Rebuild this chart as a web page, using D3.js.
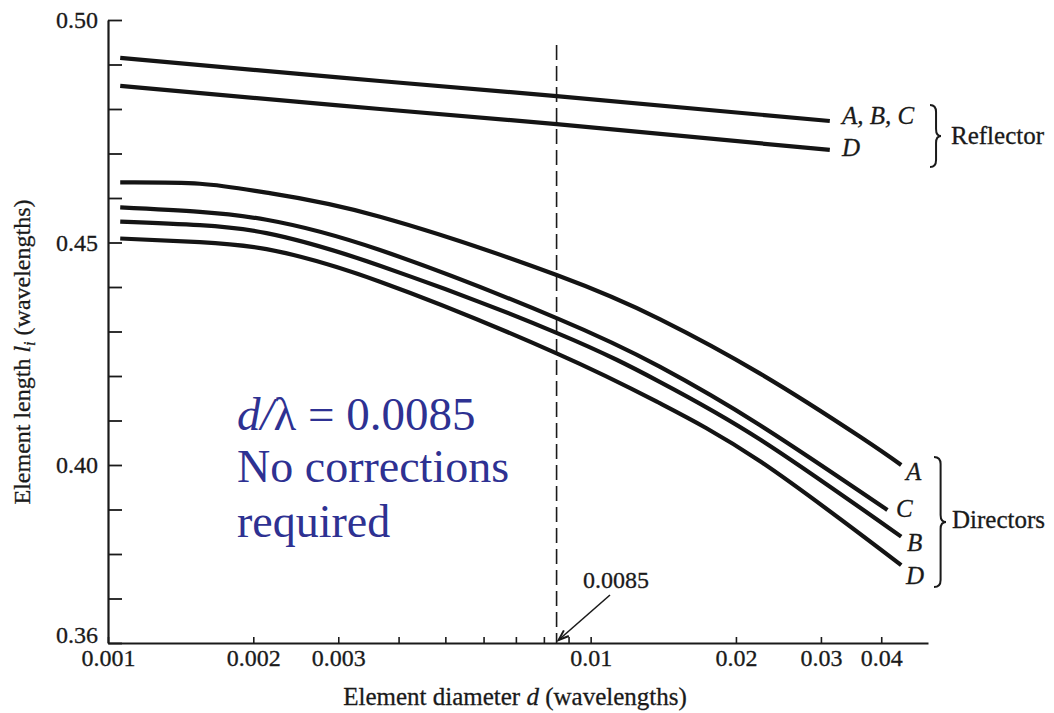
<!DOCTYPE html>
<html>
<head>
<meta charset="utf-8">
<script src="https://cdn.jsdelivr.net/npm/d3@7"></script>
<style>
  html, body { margin: 0; padding: 0; background: #fff; }
  svg { display: block; }
  text { font-family: "Liberation Serif", "Times New Roman", serif; fill: #1a1a1a; }
  text.ink { stroke: #1a1a1a; stroke-width: 0.3px; }
</style>
</head>
<body>
<svg id="chart" width="1054" height="713"></svg>
<script>
// ---- data (element diameter d in wavelengths, element length l in wavelengths) ----
const reflectorABC_d = [0.00106, 0.003, 0.0085, 0.0313];
const reflectorABC_l = [0.4915, 0.4871, 0.4829, 0.4773];
const reflectorD_d = [0.00106, 0.003, 0.0085, 0.0313];
const reflectorD_l = [0.4852, 0.4808, 0.4766, 0.4708];

const directorA_d = [0.00106, 0.00155, 0.00213, 0.00366, 0.0085, 0.0139, 0.0224, 0.0361, 0.044];
const directorA_l = [0.4635, 0.4632, 0.4612, 0.4558, 0.4427, 0.4328, 0.4206, 0.4064, 0.4000];
const directorC_d = [0.00106, 0.00155, 0.00213, 0.00366, 0.0085, 0.0139, 0.0224, 0.0412];
const directorC_l = [0.4579, 0.4569, 0.4551, 0.4483, 0.4330, 0.4221, 0.4090, 0.3899];
const directorB_d = [0.00106, 0.00155, 0.00213, 0.00366, 0.0085, 0.0139, 0.0224, 0.044];
const directorB_l = [0.4547, 0.4539, 0.4521, 0.4448, 0.4297, 0.4187, 0.4058, 0.3839];
const directorD_d = [0.00106, 0.00155, 0.00213, 0.00366, 0.0085, 0.0139, 0.0224, 0.044];
const directorD_l = [0.4509, 0.4501, 0.4485, 0.4412, 0.4251, 0.4139, 0.4009, 0.3775];

const xTickValues = [0.001, 0.002, 0.003, 0.004, 0.005, 0.006, 0.007, 0.008, 0.009, 0.01, 0.02, 0.03, 0.04];
const xTickLabels = {0.001: "0.001", 0.002: "0.002", 0.003: "0.003", 0.01: "0.01", 0.02: "0.02", 0.03: "0.03", 0.04: "0.04"};
const yTickValues = [0.36, 0.37, 0.38, 0.39, 0.40, 0.41, 0.42, 0.43, 0.44, 0.45, 0.46, 0.47, 0.48, 0.49, 0.50];
const yTickLabels = {0.36: "0.36", 0.4: "0.40", 0.45: "0.45", 0.5: "0.50"};
const markerD = 0.0085;

// ---- layout ----
const svg = d3.select("#chart");
const x = d3.scaleLog().domain([0.001, 0.05]).range([108, 928]);
const y = d3.scaleLinear().domain([0.36, 0.50]).range([643, 20]);
const key = v => +v.toFixed(4);

// axes
const xAxis = d3.axisBottom(x).tickValues(xTickValues).tickSize(-6).tickSizeOuter(0).tickPadding(6)
  .tickFormat(d => xTickLabels[key(d)] || "");
const gx = svg.append("g").attr("transform", "translate(0,643)").call(xAxis);
gx.select(".domain").attr("stroke", "#1a1a1a").attr("stroke-width", 2.2);
gx.selectAll(".tick line").attr("stroke", "#1a1a1a").attr("stroke-width", 1.6);
gx.selectAll(".tick text").attr("class", "ink").attr("font-size", 24).attr("fill", "#1a1a1a");

const yAxis = d3.axisLeft(y).tickValues(yTickValues).tickSize(-14).tickSizeOuter(0).tickPadding(10)
  .tickFormat(d => yTickLabels[key(d)] || "");
const gy = svg.append("g").attr("transform", "translate(108,0)").call(yAxis);
gy.select(".domain").attr("stroke", "#1a1a1a").attr("stroke-width", 2.2);
gy.selectAll(".tick line").attr("stroke", "#1a1a1a").attr("stroke-width", 1.8);
gy.selectAll(".tick text").attr("class", "ink").attr("font-size", 24).attr("fill", "#1a1a1a")
  .attr("dy", d => key(d) === 0.36 ? "-0.02em" : "0.32em");

// axis titles
const xt = svg.append("text").attr("class", "ink").attr("x", 515).attr("y", 705).attr("text-anchor", "middle").attr("font-size", 25);
xt.append("tspan").text("Element diameter ");
xt.append("tspan").attr("font-style", "italic").text("d");
xt.append("tspan").text(" (wavelengths)");

const yt = svg.append("text").attr("class", "ink").attr("transform", "translate(30,352) rotate(-90)").attr("text-anchor", "middle").attr("font-size", 24);
yt.append("tspan").text("Element length ");
yt.append("tspan").attr("font-style", "italic").text("l");
yt.append("tspan").attr("font-style", "italic").attr("font-size", 16).attr("dy", 5).text("i");
yt.append("tspan").attr("dy", -5).text(" (wavelengths)");

// dashed marker line
svg.append("line").attr("x1", x(markerD)).attr("x2", x(markerD)).attr("y1", 45).attr("y2", 643)
  .attr("stroke", "#1a1a1a").attr("stroke-width", 1.6).attr("stroke-dasharray", "15,6");

// curves
const line = d3.line().x(p => x(p[0])).y(p => y(p[1])).curve(d3.curveNatural);
const series = [
  [reflectorABC_d, reflectorABC_l], [reflectorD_d, reflectorD_l],
  [directorA_d, directorA_l], [directorC_d, directorC_l],
  [directorB_d, directorB_l], [directorD_d, directorD_l]
];
series.forEach(([ds, ls]) => {
  svg.append("path").attr("d", line(ds.map((d, i) => [d, ls[i]])))
    .attr("fill", "none").attr("stroke", "#141414").attr("stroke-width", 4.2);
});

// curve labels
const lab = (tx, ty, s) => svg.append("text").attr("class", "ink").attr("x", tx).attr("y", ty)
  .attr("font-size", 25).attr("font-style", "italic").text(s);
lab(842, 124, "A, B, C");
lab(842, 156, "D");
lab(906, 480, "A");
lab(896, 517, "C");
lab(907, 551, "B");
lab(906, 584, "D");

// braces
function brace(bx, y0, y1, w) {
  const ym = (y0 + y1) / 2, r = 7, mx = bx + w * 0.55;
  return `M${bx},${y0} Q${mx},${y0} ${mx},${y0 + r} L${mx},${ym - r} Q${mx},${ym} ${bx + w},${ym}` +
         ` Q${mx},${ym} ${mx},${ym + r} L${mx},${y1 - r} Q${mx},${y1} ${bx},${y1}`;
}
svg.append("path").attr("d", brace(930, 105, 167, 11)).attr("fill", "none").attr("stroke", "#1a1a1a").attr("stroke-width", 2);
svg.append("path").attr("d", brace(934, 457, 587, 12)).attr("fill", "none").attr("stroke", "#1a1a1a").attr("stroke-width", 2);
svg.append("text").attr("class", "ink").attr("x", 951).attr("y", 144).attr("font-size", 25).text("Reflector");
svg.append("text").attr("class", "ink").attr("x", 952).attr("y", 528).attr("font-size", 25).text("Directors");

// 0.0085 callout with arrow
svg.append("text").attr("class", "ink").attr("x", 583).attr("y", 588).attr("font-size", 24).text("0.0085");
const ax0 = 610, ay0 = 595, ax1 = x(markerD) + 2, ay1 = 640;
svg.append("line").attr("x1", ax0).attr("y1", ay0).attr("x2", ax1).attr("y2", ay1)
  .attr("stroke", "#1a1a1a").attr("stroke-width", 1.6);
const ang = Math.atan2(ay1 - ay0, ax1 - ax0);
const ah = 11;
svg.append("path")
  .attr("d", `M${ax1 - ah * Math.cos(ang - 0.35)},${ay1 - ah * Math.sin(ang - 0.35)} L${ax1},${ay1} L${ax1 - ah * Math.cos(ang + 0.35)},${ay1 - ah * Math.sin(ang + 0.35)}`)
  .attr("fill", "none").attr("stroke", "#1a1a1a").attr("stroke-width", 2);

// blue annotation
const blue = "#2e3192";
const t1 = svg.append("text").attr("x", 237).attr("y", 430).attr("font-size", 47).style("fill", blue);
t1.append("tspan").attr("font-style", "italic").style("fill", blue).text("d/");
t1.append("tspan").style("fill", blue).text("λ = 0.0085");
svg.append("text").attr("x", 237).attr("y", 482).attr("font-size", 46).style("fill", blue).text("No corrections");
svg.append("text").attr("x", 237).attr("y", 537).attr("font-size", 46).style("fill", blue).text("required");
</script>
</body>
</html>
